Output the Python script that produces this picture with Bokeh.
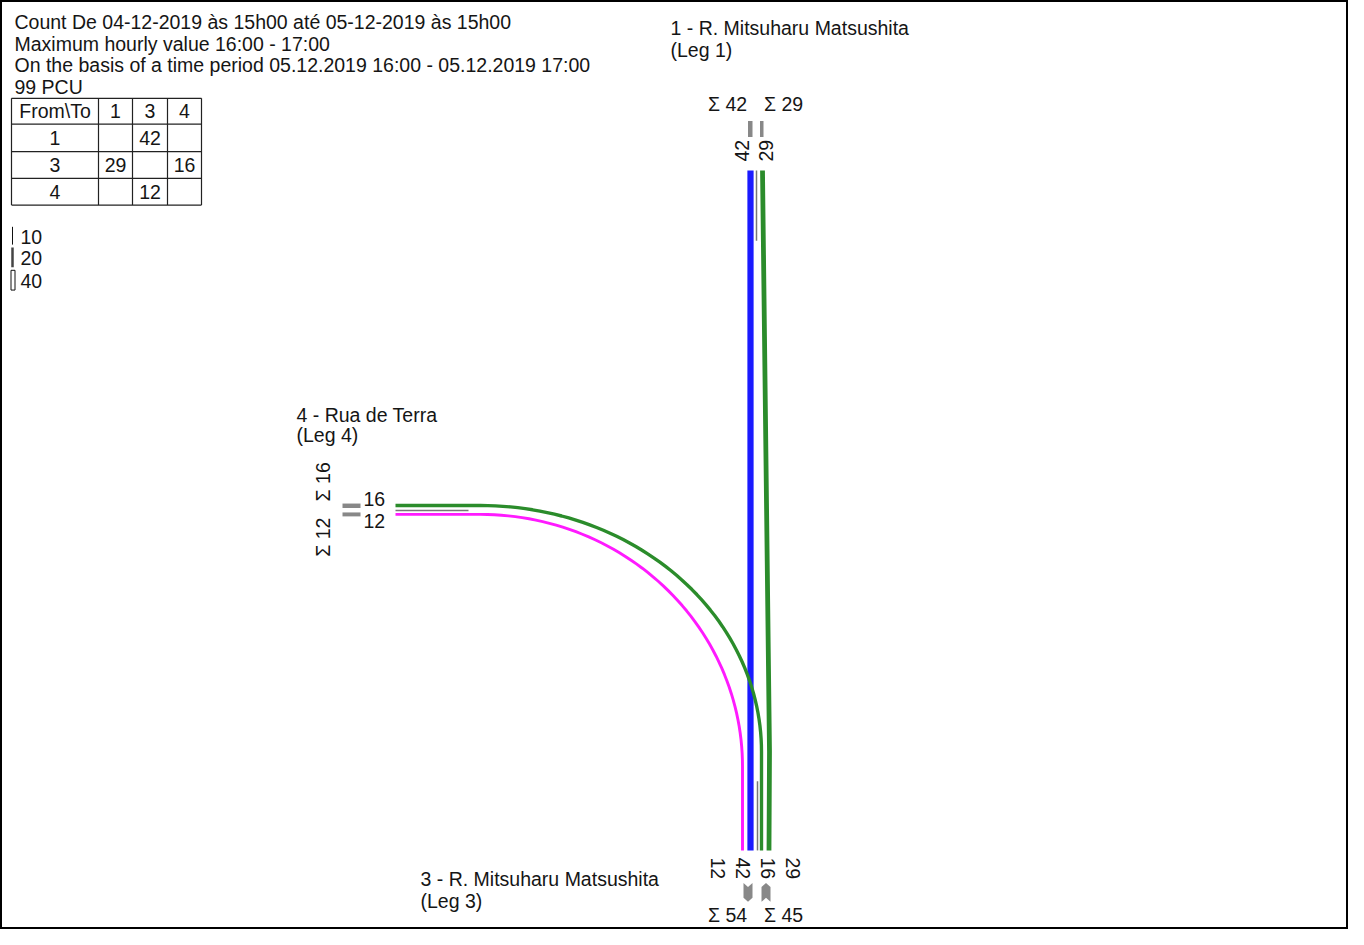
import numpy as np
from bokeh.plotting import figure
from bokeh.models import Range1d
from bokeh.core.properties import value
from bokeh.embed import file_html
from bokeh.resources import INLINE

# ---------------- data ----------------
header_lines = [
    "Count De 04-12-2019 às 15h00 até 05-12-2019 às 15h00",
    "Maximum hourly value 16:00 - 17:00",
    "On the basis of a time period 05.12.2019 16:00 - 05.12.2019 17:00",
    "99 PCU",
]
legs = [1, 3, 4]
leg_titles = {1: "1 - R. Mitsuharu Matsushita", 3: "3 - R. Mitsuharu Matsushita", 4: "4 - Rua de Terra"}
leg_sub = {1: "(Leg 1)", 3: "(Leg 3)", 4: "(Leg 4)"}
# rows = from, cols = to
od_matrix = [
    [None, 42, None],
    [29, None, 16],
    [None, 12, None],
]
flow_colors = {(1, 3): "#1a1aff", (3, 1): "#2b8c2b", (3, 4): "#2b8c2b", (4, 3): "#ff1aff"}
scale_values = [10, 20, 40]

def vol(a, b):
    return od_matrix[legs.index(a)][legs.index(b)]

def total_from(a):
    return sum(v for v in od_matrix[legs.index(a)] if v)

def total_to(b):
    return sum(r[legs.index(b)] for r in od_matrix if r[legs.index(b)])

# ---------------- layout ----------------
FONT = "Liberation Sans"
FS = "19.5px"
W, H = 1348, 929
p = figure(width=W, height=H, x_range=Range1d(0, W), y_range=Range1d(940, 0),
           output_backend="svg", toolbar_location=None, min_border=0,
           x_axis_location=None, y_axis_location=None)
p.grid.visible = False
p.outline_line_color = "black"
p.outline_line_width = 3
p.background_fill_color = "white"
p.border_fill_color = "white"

def txt(x, y, s, align="left", angle=0.0, size=FS):
    p.text(x=[x], y=[y], text=[s], text_align=align, text_baseline="middle", angle=angle,
           text_font=value(FONT), text_font_size=size, text_color="#151515")

def lw(v):
    return 1.6 + 0.11 * v

# header
for i, s in enumerate(header_lines):
    txt(14, 22 + i * 21.7, s)

# OD table
row_edges = [99, 125, 153, 180, 207]
col_edges = [11, 98, 132, 167, 201]
p.segment(x0=[col_edges[0]] * len(row_edges), x1=[col_edges[-1]] * len(row_edges),
          y0=row_edges, y1=row_edges, line_color="#222", line_width=1.2)
p.segment(x0=col_edges, x1=col_edges, y0=[row_edges[0]] * len(col_edges),
          y1=[row_edges[-1]] * len(col_edges), line_color="#222", line_width=1.2)
cx = [(col_edges[i] + col_edges[i + 1]) / 2 for i in range(4)]
cy = [(row_edges[i] + row_edges[i + 1]) / 2 for i in range(4)]
txt(cx[0], cy[0], "From\\To", align="center")
for j, b in enumerate(legs):
    txt(cx[j + 1], cy[0], str(b), align="center")
for i, a in enumerate(legs):
    txt(cx[0], cy[i + 1], str(a), align="center")
    for j, b in enumerate(legs):
        v = od_matrix[i][j]
        if v:
            txt(cx[j + 1], cy[i + 1], str(v), align="center")

# width scale legend
sy = [(229, 247), (250, 270), (273, 293)]
p.segment(x0=[12], x1=[12], y0=[sy[0][0]], y1=[sy[0][1]], line_color="#111", line_width=1)
p.segment(x0=[12], x1=[12], y0=[sy[1][0]], y1=[sy[1][1]], line_color="#444", line_width=2.5)
p.quad(left=[10.5], right=[14.5], top=[sy[2][0]], bottom=[sy[2][1]], fill_color="white",
       line_color="#111", line_width=1)
for (a, b), v in zip(sy, scale_values):
    txt(20, (a + b) / 2 + 1, str(v))

# leg anchors
TOP_Y, BOT_Y, LEFT_X = 172, 860, 395
lane_top = {(1, 3): 750, (3, 1): 762}
lane_bot = {(4, 3): 742, (1, 3): 750, (3, 4): 761, (3, 1): 768.5}
lane_left = {(3, 4): 511, (4, 3): 520}

def arc(cxx, cyy, rx, ry, reverse=False):
    t = np.linspace(0, np.pi / 2, 60)
    xs = cxx + rx * np.cos(t)
    ys = cyy - ry * np.sin(t)
    if reverse:
        xs, ys = xs[::-1], ys[::-1]
    return list(xs), list(ys)

# 4 -> 3 (magenta)
ax, ay = arc(480, 775, lane_bot[(4, 3)] - 480, 775 - lane_left[(4, 3)], reverse=True)
p.line([LEFT_X] + ax + [lane_bot[(4, 3)]], [lane_left[(4, 3)]] + ay + [BOT_Y],
       line_color=flow_colors[(4, 3)], line_width=lw(vol(4, 3)))
# 1 -> 3 (blue)
p.line([lane_top[(1, 3)], lane_bot[(1, 3)]], [TOP_Y, BOT_Y],
       line_color=flow_colors[(1, 3)], line_width=lw(vol(1, 3)))
# 3 -> 4 (green)
gx, gy = arc(480, 760, lane_bot[(3, 4)] - 480, 760 - lane_left[(3, 4)])
p.line([lane_bot[(3, 4)]] + gx + [LEFT_X], [BOT_Y] + gy + [lane_left[(3, 4)]],
       line_color=flow_colors[(3, 4)], line_width=lw(vol(3, 4)))
# 3 -> 1 (green)
p.line([lane_bot[(3, 1)], 769, lane_top[(3, 1)]], [BOT_Y, 760, TOP_Y],
       line_color=flow_colors[(3, 1)], line_width=lw(vol(3, 1)))

# thin separators
p.segment(x0=[756, 757, LEFT_X], x1=[756, 757, 468], y0=[TOP_Y, 790, 516], y1=[243, BOT_Y, 516],
          line_color="#777777", line_width=1.5)

# leg 1 (top)
txt(670, 28, leg_titles[1]); txt(670, 50, leg_sub[1])
txt(727, 105, "Σ " + str(total_from(1)), align="center")
txt(783, 105, "Σ " + str(total_to(1)), align="center")
p.quad(left=[747.5, 759.5], right=[752, 763], top=[122, 122], bottom=[138, 138],
       fill_color="#888888", line_color=None)
txt(741, 152, str(vol(1, 3)), align="center", angle=np.pi / 2)
txt(765, 152, str(vol(3, 1)), align="center", angle=np.pi / 2)

# leg 4 (left)
txt(296, 419, leg_titles[4]); txt(296, 440, leg_sub[4])
txt(322, 487, "Σ " + str(total_to(4)), align="center", angle=np.pi / 2)
txt(322, 543, "Σ " + str(total_from(4)), align="center", angle=np.pi / 2)
p.quad(left=[342, 342], right=[360, 360], top=[509, 518], bottom=[513.5, 522],
       fill_color="#888888", line_color=None)
txt(363, 504, str(vol(3, 4)))
txt(363, 527, str(vol(4, 3)))

# leg 3 (bottom)
txt(420, 889, leg_titles[3]); txt(420, 911, leg_sub[3])
txt(717, 878, str(vol(4, 3)), align="center", angle=-np.pi / 2)
txt(742, 878, str(vol(1, 3)), align="center", angle=-np.pi / 2)
txt(767, 878, str(vol(3, 4)), align="center", angle=-np.pi / 2)
txt(792, 878, str(vol(3, 1)), align="center", angle=-np.pi / 2)
p.patches(xs=[[743, 747.5, 752, 752, 747.5, 743], [761, 765.5, 770, 770, 765.5, 761]],
          ys=[[893, 897, 893, 908, 912, 908], [897, 893, 897, 912, 908, 912]],
          fill_color="#888888", line_color=None)
txt(727, 925, "Σ " + str(total_to(3)), align="center")
txt(783, 925, "Σ " + str(total_from(3)), align="center")

open("out.html", "w").write(file_html(p, INLINE))
